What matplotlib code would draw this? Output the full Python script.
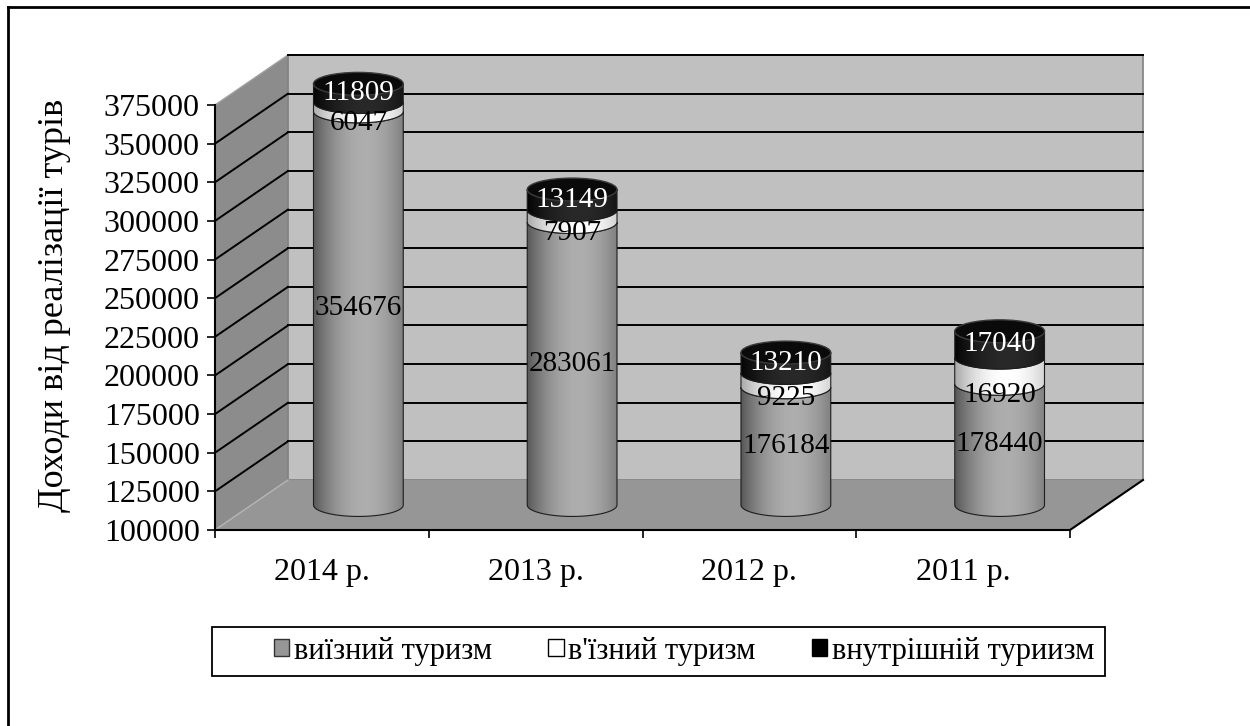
import numpy as np
import matplotlib
matplotlib.use("Agg")
import matplotlib.pyplot as plt
from matplotlib.patches import Polygon, PathPatch, Ellipse, Patch, Rectangle
from matplotlib.path import Path
from matplotlib.lines import Line2D

years = ["2014 р.", "2013 р.", "2012 р.", "2011 р."]
outbound = [354676, 283061, 176184, 178440]
inbound = [6047, 7907, 9225, 16920]
domestic = [11809, 13149, 13210, 17040]
series_names = ["виїзний туризм", "в'їзний туризм", "внутрішній туриизм"]
y_ticks = np.arange(100000, 375001, 25000)

plt.rcParams["font.family"] = ["Liberation Serif", "DejaVu Serif"]

# 3d look: depth shift of the back wall and size of the cylinders (data units)
DX, DY = 0.3415, 32350
W, EH = 0.42, 7400
Y0 = y_ticks[0]


def shade(dark, light, peak=0.58, n=80):
    t = np.linspace(0, 1, n)
    prof = np.clip(1 - ((t - peak) / 0.62) ** 2, 0, 1)
    col = dark + (light - dark) * prof
    return np.dstack([col, col, col])


def seg_path(cx, b, t):
    th = np.linspace(np.pi, 2 * np.pi, 40)
    ex = cx + W / 2 * np.cos(th)
    ey = EH * np.sin(th)
    verts = [(cx - W / 2, b), (cx - W / 2, t)]
    verts += list(zip(ex, t + ey))
    verts += [(cx + W / 2, t), (cx + W / 2, b)]
    verts += list(zip(ex[::-1], b + ey[::-1]))
    verts.append((cx - W / 2, b))
    return Path(verts, closed=True)


fig = plt.figure(figsize=(12.5, 7.26), dpi=100)
ax = fig.add_axes([215 / 1250, 196 / 726, 855 / 1250, 425 / 726])
ax.set_facecolor("none")

# walls and floor
left_wall = Polygon([(-0.5, Y0), (-0.5, y_ticks[-1]), (-0.5 + DX, y_ticks[-1] + DY), (-0.5 + DX, Y0 + DY)],
                    closed=True, fc="#8c8c8c", ec="#a0a0a0", lw=1, zorder=0.5, clip_on=False)
back_wall = Polygon([(-0.5 + DX, Y0 + DY), (-0.5 + DX, y_ticks[-1] + DY), (3.5 + DX, y_ticks[-1] + DY), (3.5 + DX, Y0 + DY)],
                    closed=True, fc="#c0c0c0", ec="#808080", lw=1.2, zorder=0.5, clip_on=False)
floor = Polygon([(-0.5, Y0), (3.5, Y0), (3.5 + DX, Y0 + DY), (-0.5 + DX, Y0 + DY)],
                closed=True, fc="#969696", ec="none", zorder=0.6, clip_on=False)
for p in (left_wall, back_wall, floor):
    ax.add_patch(p)
ax.plot([3.5, 3.5 + DX], [Y0, Y0 + DY], color="black", lw=1.5, zorder=0.9, clip_on=False)
ax.plot([-0.5, -0.5 + DX], [Y0, Y0 + DY], color="#b4b4b4", lw=1, zorder=0.7, clip_on=False)

for v in y_ticks[1:]:
    ax.plot([-0.5 + DX, 3.5 + DX], [v + DY, v + DY], color="black", lw=1.4, zorder=0.8, clip_on=False)
for v in y_ticks[1:-1]:
    ax.plot([-0.5, -0.5 + DX], [v, v + DY], color="black", lw=1.4, zorder=0.8, clip_on=False)

# cylinders
shades = [shade(0.30, 0.68), shade(0.62, 1.0), shade(0.0, 0.16)]
label_cols = ["black", "black", "white"]
for i in range(len(years)):
    cx = i + DX / 2
    vals = [outbound[i], inbound[i], domestic[i]]
    tops = np.cumsum(vals) + DY / 2
    bots = np.concatenate([[Y0 + DY / 2], tops[:-1]])
    for k in range(3):
        path = seg_path(cx, bots[k], tops[k])
        outline = PathPatch(path, fc="none", ec="#1e1e1e", lw=0.8, zorder=3 + k * 0.1, clip_on=False)
        ax.add_patch(outline)
        im = ax.imshow(shades[k], extent=(cx - W / 2, cx + W / 2, bots[k] - EH, tops[k] + EH),
                       aspect="auto", interpolation="bilinear", zorder=2.9 + k * 0.1)
        im.set_clip_box(fig.bbox)
        im.set_clip_path(outline)
    cap = Ellipse((cx, tops[-1]), W, 2 * EH, fc="#0a0a0a", ec="#3a3a3a", lw=1, zorder=3.5, clip_on=False)
    ax.add_patch(cap)

    ax.annotate(str(outbound[i]), (cx, (bots[0] + tops[0]) / 2), ha="center", va="center",
                fontsize=21, color=label_cols[0], zorder=10, annotation_clip=False)
    ax.annotate(str(inbound[i]), (cx, bots[1]), xytext=(0, -8), textcoords="offset points",
                ha="center", va="center", fontsize=21, color=label_cols[1], zorder=10, annotation_clip=False)
    ax.annotate(str(domestic[i]), (cx, (bots[2] + tops[2]) / 2), xytext=(0, 0), textcoords="offset points",
                ha="center", va="center", fontsize=21, color=label_cols[2], zorder=10, annotation_clip=False)

ax.set_xlim(-0.5, 3.5)
ax.set_ylim(y_ticks[0], y_ticks[-1])

ax.spines["top"].set_visible(False)
ax.spines["right"].set_visible(False)
for s in ("left", "bottom"):
    ax.spines[s].set_linewidth(1.5)
    ax.spines[s].set_zorder(1)

ax.set_yticks(y_ticks)
ax.set_yticklabels([str(v) for v in y_ticks])
ax.tick_params(axis="y", direction="out", length=6, width=1.2, pad=5, labelsize=23)
ax.set_xticks(np.arange(-0.5, 3.6, 1))
ax.set_xticklabels([])
ax.set_xticks(range(len(years)), minor=True)
ax.set_xticklabels(years, minor=True)
ax.tick_params(axis="x", which="major", direction="out", length=6, width=1.2)
ax.tick_params(axis="x", which="minor", length=0, pad=20, labelsize=23)

fig.text(55 / 1250, 1 - 305 / 726, "Доходи від реалізації турів", rotation=90,
         ha="center", va="center", fontsize=26)

# legend: frame drawn on its own so the entries can sit off-centre as in the original
fig.add_artist(Rectangle((212 / 1250, 50 / 726), 893 / 1250, 49 / 726, transform=fig.transFigure,
                         fc="white", ec="black", lw=1.3, zorder=1))
handles = [Patch(fc="#969696", ec="#333333"), Patch(fc="white", ec="black"), Patch(fc="black", ec="black")]
leg = fig.legend(handles, series_names, loc="center", bbox_to_anchor=(684 / 1250, 1 - 651 / 726),
                 ncol=3, frameon=False, fontsize=22,
                 handlelength=0.5, handleheight=0.5, handletextpad=0.15, columnspacing=1.85,
                 borderpad=0.3, borderaxespad=0)
leg.set_zorder(2)

fig.add_artist(Line2D([8 / 1250, 8 / 1250], [0, 1 - 7 / 726], transform=fig.transFigure, color="black", lw=2))
fig.add_artist(Line2D([8 / 1250, 1], [1 - 7 / 726, 1 - 7 / 726], transform=fig.transFigure, color="black", lw=2))

fig.savefig("out.png", dpi=100)
